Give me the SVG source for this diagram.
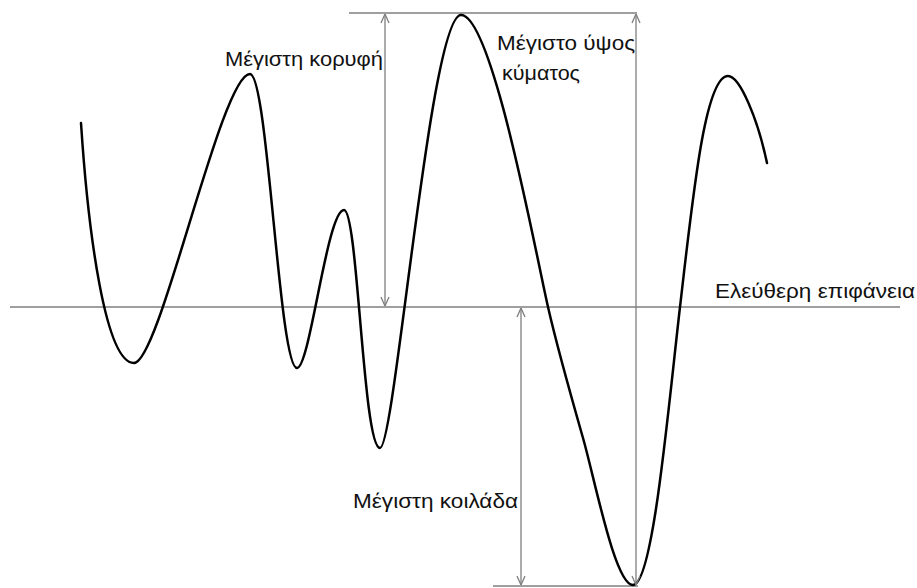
<svg xmlns="http://www.w3.org/2000/svg" width="917" height="588" viewBox="0 0 917 588">
  <style>
    .ref { stroke: #7f7f7f; stroke-width: 1.5; fill: none; }
    .dim { stroke: #7f7f7f; stroke-width: 1.3; fill: none; marker-start: url(#ah); marker-end: url(#ah); }
    .wave { stroke: #000; stroke-width: 2.5; fill: none; stroke-linecap: round; stroke-linejoin: round; }
    .lbl { font-family: "Liberation Sans", Arial, sans-serif; font-size: 20px; fill: #111111; }
  </style>
  <defs>
    <marker id="ah" viewBox="0 0 10 10" refX="10" refY="5" markerWidth="10" markerHeight="10" markerUnits="userSpaceOnUse" orient="auto-start-reverse">
      <path d="M1,1 L10,5 L1,9" fill="none" stroke="#7f7f7f" stroke-width="1.3"/>
    </marker>
  </defs>
  <rect width="917" height="588" fill="#ffffff"/>

  <g id="reference-lines">
    <line class="ref" x1="10" y1="307" x2="900" y2="307"/>
    <line class="ref" x1="349" y1="13" x2="637" y2="13"/>
    <line class="ref" x1="493" y1="586" x2="638" y2="586" stroke-width="2"/>
  </g>

  <g id="wave">
    <path class="wave" d="M81,123 C88,230 105,363 134,363 C160,363 221,74 250,74 C268,74 279,368 297,368 C310,368 327,210 344,210 C358,210 363,448 380,448 C395,448 430,15 461,15 C492,15 535,250 548,307 C556,342 575,410 583,438 C595,480 615,585 633,585 C653,585 668,410 680,307 C693,195 705,76 728,76 C740,76 758,120 767,163"/>
  </g>

  <g id="connectors">
    <line class="dim" x1="385" y1="14" x2="385" y2="306"/>
    <line class="dim" x1="636" y1="14" x2="636" y2="585"/>
    <line class="dim" x1="521" y1="308" x2="521" y2="585"/>
  </g>

  <g id="label-max-crest">
    <text class="lbl" x="225" y="66" textLength="158" lengthAdjust="spacingAndGlyphs">Μέγιστη κορυφή</text>
  </g>
  <g id="label-max-height">
    <text class="lbl" x="497" y="50" textLength="138" lengthAdjust="spacingAndGlyphs">Μέγιστο ύψος</text>
    <text class="lbl" x="502" y="80" textLength="78" lengthAdjust="spacingAndGlyphs">κύματος</text>
  </g>
  <g id="label-max-trough">
    <text class="lbl" x="353" y="508" textLength="165" lengthAdjust="spacingAndGlyphs">Μέγιστη κοιλάδα</text>
  </g>
  <g id="label-free-surface">
    <text class="lbl" x="715" y="298" textLength="200" lengthAdjust="spacingAndGlyphs">Ελεύθερη επιφάνεια</text>
  </g>
</svg>
